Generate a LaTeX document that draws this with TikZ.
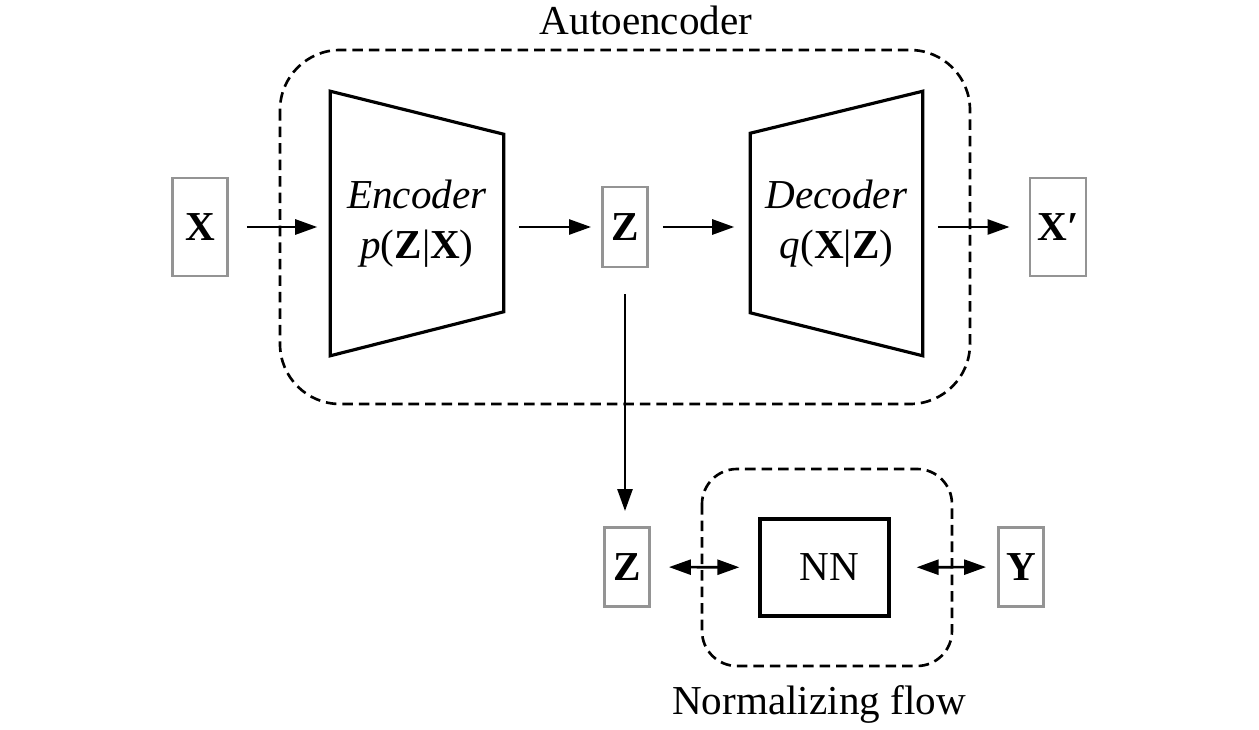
\documentclass[tikz,border=0pt]{standalone}
\usepackage{fontspec}
\setmainfont{Liberation Serif}
\usetikzlibrary{arrows.meta,positioning,calc}

\begin{document}
\begin{tikzpicture}[
  x=0.01cm, y=-0.01cm,
  every node/.style={font=\fontsize{11.7}{14.2}\selectfont},
  var/.style={draw=black!42, line width=0.8pt, inner sep=0pt,
              font=\fontsize{11.7}{14.2}\selectfont\bfseries},
  net/.style={line width=0.9pt, line join=miter},
  arr/.style={-{Triangle[length=2.2mm,width=1.5mm]}, line width=0.75pt},
  dbl/.style={{Triangle[length=2.2mm,width=1.5mm]}-{Triangle[length=2.2mm,width=1.5mm]},
              line width=0.75pt},
  group/.style={line width=0.75pt, dash pattern=on 3pt off 1.7pt}]

\useasboundingbox (0,0) rectangle (1259,730);

% ---- the two dashed groups ---------------------------------------------
\draw[group, rounded corners=0.6cm] (280,50) rectangle (970,404);
\draw[group, rounded corners=0.35cm] (702,469) rectangle (952,666);
\node (ae)   at (646,20)  {Autoencoder};
\node (flow) at (819,704) {Normalizing flow};

% ---- the variables, in grey boxes --------------------------------------
\node[var, minimum width=0.55cm, minimum height=0.98cm] (x)  at (200,227) {X};
\node[var, minimum width=0.45cm, minimum height=0.80cm] (z)  at (625,227) {Z};
\node[var, minimum width=0.56cm, minimum height=0.98cm] (xr) at (1058,227) {X′};
\node[var, minimum width=0.45cm, minimum height=0.79cm] (z2) at (627,567) {Z};
\node[var, minimum width=0.45cm, minimum height=0.79cm] (y)  at (1021,567) {Y};

% ---- encoder and decoder, trapezoids round their text ------------------
\node[inner sep=0pt, minimum width=1.72cm, minimum height=2.63cm,
      align=center] (enc) at (417,223.5)
  {\textit{Encoder}\\\textit{p}(\textbf{Z}|\textbf{X})};
\node[inner sep=0pt, minimum width=1.71cm, minimum height=2.63cm,
      align=center] (dec) at (836.5,223.5)
  {\textit{Decoder}\\\textit{q}(\textbf{X}|\textbf{Z})};
\draw[net] (enc.north west) -- ($(enc.north east)+(0,43)$)
  -- ($(enc.south east)+(0,-44)$) -- (enc.south west) -- cycle;
\draw[net] ($(dec.north west)+(0,42)$) -- (dec.north east)
  -- (dec.south east) -- ($(dec.south west)+(0,-43)$) -- cycle;

% ---- the network inside the flow ---------------------------------------
\node[draw, line width=0.9pt, minimum width=1.29cm, minimum height=0.97cm]
  (nn) at (824.5,567.5) {\hspace{0.1cm}NN};

% ---- connectors --------------------------------------------------------
\draw[arr, shorten <=0.18cm, shorten >=0.13cm] (x.east) -- (x.east -| enc.west);
\draw[arr, shorten <=0.15cm, shorten >=0.10cm] (z.west -| enc.east) -- (z.west);
\draw[arr, shorten <=0.14cm, shorten >=0.16cm] (z.east) -- (z.east -| dec.west);
\draw[arr, shorten <=0.15cm, shorten >=0.19cm] (xr.west -| dec.east) -- (xr.west);
\draw[arr, shorten <=0.26cm, shorten >=0.15cm] (z) -- (z |- z2.north);
\draw[dbl, shorten <=0.18cm, shorten >=0.19cm] (z2) -- (nn);
\draw[dbl, shorten <=0.26cm, shorten >=0.11cm] (nn) -- (y);
\end{tikzpicture}
\end{document}
